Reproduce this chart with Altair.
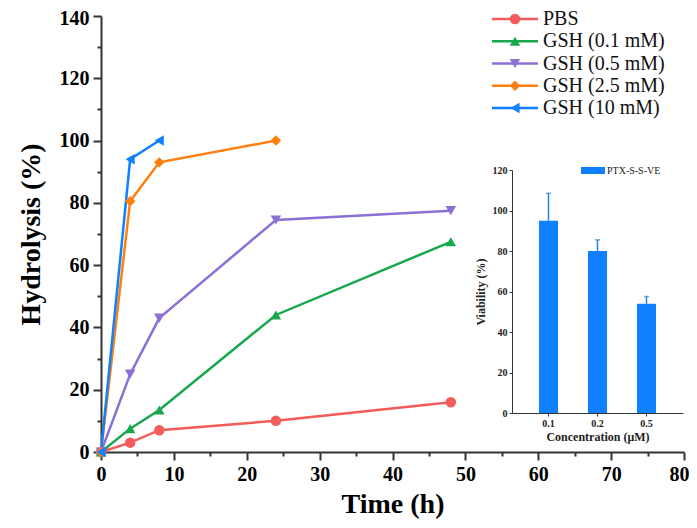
import altair as alt
import pandas as pd

# ---- data ----
series_names = ["PBS", "GSH (0.1 mM)", "GSH (0.5 mM)", "GSH (2.5 mM)", "GSH (10 mM)"]
series_colors = ["#f45b5b", "#17a84b", "#8b70d6", "#ff7f0e", "#0f80ff"]
series_shapes = ["circle", "triangle-up", "triangle-down", "diamond", "triangle-left"]

time_pbs = [0, 4, 8, 24, 48]
val_pbs = [0, 3, 7, 10, 16]
time_g01 = [0, 4, 8, 24, 48]
val_g01 = [0, 7.5, 13.5, 44, 67.5]
time_g05 = [0, 4, 8, 24, 48]
val_g05 = [0, 25, 43, 74.5, 77.5]
time_g25 = [0, 4, 8, 24]
val_g25 = [0, 80.5, 93, 100]
time_g10 = [0, 4, 8]
val_g10 = [0, 94, 100]

x_ticks = [0, 10, 20, 30, 40, 50, 60, 70, 80]
x_minor = [5, 15, 25, 35, 45, 55, 65, 75]
y_ticks = [0, 20, 40, 60, 80, 100, 120, 140]
y_minor = [10, 30, 50, 70, 90, 110, 130]

inset_conc = ["0.1", "0.2", "0.5"]
inset_viab = [95, 80, 54]
inset_err_top = [108.5, 85.5, 57.5]
inset_y_ticks = [0, 20, 40, 60, 80, 100, 120]
inset_series = ["PTX-S-S-VE"]

# ---- tables ----
rows = []
for name, ts, vs in zip(series_names,
                        [time_pbs, time_g01, time_g05, time_g25, time_g10],
                        [val_pbs, val_g01, val_g05, val_g25, val_g10]):
    for t, v in zip(ts, vs):
        rows.append({"series": name, "time": t, "value": v})
df = pd.DataFrame(rows)
legend_df = pd.DataFrame({"series": series_names, "idx": list(range(len(series_names)))})
inset_df = pd.DataFrame({"conc": inset_conc, "viab": inset_viab, "top": inset_err_top})
inset_leg_df = pd.DataFrame({"name": inset_series})

FONT = "Liberation Serif"
W, H = 583, 436

color_scale = alt.Scale(domain=series_names, range=series_colors)
shape_scale = alt.Scale(domain=series_names, range=series_shapes)

x_main = alt.X("time:Q", scale=alt.Scale(domain=[0, 80], nice=False),
               axis=alt.Axis(values=x_ticks, title="Time (h)", orient="bottom",
                             labelFont=FONT, labelFontSize=20, labelFontWeight="bold",
                             titleFont=FONT, titleFontSize=28, titleFontWeight="bold",
                             labelColor="black", titleColor="black",
                             domainColor="#333333", domainWidth=2, tickColor="#333333",
                             tickWidth=2, tickSize=8, labelPadding=4, titlePadding=6,
                             grid=False, labelFlush=False,
                             labelOffset={"condition": {"test": "datum.value == 80",
                                                        "value": -5}, "value": 0}))
y_main = alt.Y("value:Q", scale=alt.Scale(domain=[0, 140], nice=False),
               axis=alt.Axis(values=y_ticks, title="Hydrolysis (%)", orient="left",
                             labelFont=FONT, labelFontSize=20, labelFontWeight="bold",
                             titleFont=FONT, titleFontSize=28, titleFontWeight="bold",
                             labelColor="black", titleColor="black",
                             domainColor="#333333", domainWidth=2, tickColor="#333333",
                             tickWidth=2, tickSize=8, labelPadding=4, titlePadding=14,
                             grid=False, labelFlush=False,
                             labelOffset={"condition": {"test": "datum.value == 140",
                                                        "value": 2}, "value": 0}))

base = alt.Chart(df)
lines = base.mark_line(strokeWidth=2.5).encode(
    x=x_main, y=y_main,
    color=alt.Color("series:N", scale=color_scale, legend=None),
    detail="series:N",
)
points = base.mark_point(filled=True, size=110, opacity=1).encode(
    x=x_main, y=y_main,
    color=alt.Color("series:N", scale=color_scale, legend=None),
    shape=alt.Shape("series:N", scale=shape_scale, legend=None),
)
main = alt.layer(lines, points)

# minor ticks via invisible layer with its own axes
minor = base.mark_point(opacity=0).encode(
    x=alt.X("time:Q", scale=alt.Scale(domain=[0, 80], nice=False),
            axis=alt.Axis(values=x_minor, labels=False, domain=False, title=None,
                          orient="bottom", tickSize=4, tickWidth=2, tickColor="#333333",
                          grid=False)),
    y=alt.Y("value:Q", scale=alt.Scale(domain=[0, 140], nice=False),
            axis=alt.Axis(values=y_minor, labels=False, domain=False, title=None,
                          orient="left", tickSize=4, tickWidth=2, tickColor="#333333",
                          grid=False)),
)

# ---- inset bar chart ----
ix0, ix1 = 411, 582
iy0, iy1 = 397, 154
inset_x = alt.X("conc:N", sort=inset_conc,
                scale=alt.Scale(range=[ix0, ix1], paddingInner=0.6, paddingOuter=0.545),
                axis=alt.Axis(orient="bottom", offset=-(H - iy0), title="Concentration (μM)",
                              labelAngle=0, labelFont=FONT, labelFontSize=10,
                              labelFontWeight="bold", titleFont=FONT, titleFontSize=12,
                              titleFontWeight="bold", labelColor="#222222",
                              titleColor="#222222", domainColor="#333333", domainWidth=1,
                              tickColor="#333333", tickSize=3, labelPadding=2,
                              titlePadding=3, grid=False))
inset_y = alt.Y("viab:Q", scale=alt.Scale(domain=[0, 120], nice=False, range=[iy0, iy1]),
                axis=alt.Axis(orient="left", offset=-ix0, title="Viability (%)",
                              values=inset_y_ticks, labelFont=FONT, labelFontSize=10,
                              labelFontWeight="bold", titleFont=FONT, titleFontSize=12,
                              titleFontWeight="bold", labelColor="#222222",
                              titleColor="#222222", domainColor="#333333", domainWidth=1,
                              tickColor="#333333", tickSize=3, labelPadding=2,
                              titlePadding=5, grid=False))
ibase = alt.Chart(inset_df)
bars = ibase.mark_bar(size=19, color="#0f80ff").encode(x=inset_x, y=inset_y)
err = ibase.mark_rule(color="#2a80d8", strokeWidth=1.5).encode(
    x=alt.X("conc:N", sort=inset_conc), y="viab:Q", y2="top:Q")
caps = ibase.mark_tick(color="#2a80d8", orient="horizontal", size=5, thickness=1.5).encode(
    x=alt.X("conc:N", sort=inset_conc), y=alt.Y("top:Q"))
inset = alt.layer(bars, err, caps)

ileg_rect = alt.Chart(inset_leg_df).mark_rect(color="#0f80ff").encode(
    x=alt.value(480), x2=alt.value(504), y=alt.value(151), y2=alt.value(158))
ileg_text = alt.Chart(inset_leg_df).mark_text(
    align="left", baseline="middle", font=FONT, fontSize=10, color="#222222").encode(
    x=alt.value(506), y=alt.value(154.5), text="name:N")

# ---- main legend ----
leg_y = alt.Y("idx:Q", scale=alt.Scale(domain=[0, 4], range=[3, 92]), axis=None)
lbase = alt.Chart(legend_df)
leg_lines = lbase.mark_rule(strokeWidth=2.5).encode(
    x=alt.value(391), x2=alt.value(437), y=leg_y,
    color=alt.Color("series:N", scale=color_scale, legend=None))
leg_pts = lbase.mark_point(filled=True, size=110, opacity=1).encode(
    x=alt.value(414), y=leg_y,
    color=alt.Color("series:N", scale=color_scale, legend=None),
    shape=alt.Shape("series:N", scale=shape_scale, legend=None))
leg_text = lbase.mark_text(align="left", baseline="middle", font=FONT, fontSize=20,
                           color="#111111").encode(
    x=alt.value(442), y=leg_y, text="series:N")
legend = alt.layer(leg_lines, leg_pts, leg_text)

chart = alt.layer(main, minor, inset, ileg_rect, ileg_text, legend).resolve_scale(
    x="independent", y="independent"
).properties(
    width=W, height=H,
    autosize=alt.AutoSizeParams(type="none"),
    padding={"left": 93, "top": 8, "right": 5, "bottom": 68},
).configure_view(stroke=None)

chart.save("out.html", embed_options={"renderer": "svg", "actions": False})
